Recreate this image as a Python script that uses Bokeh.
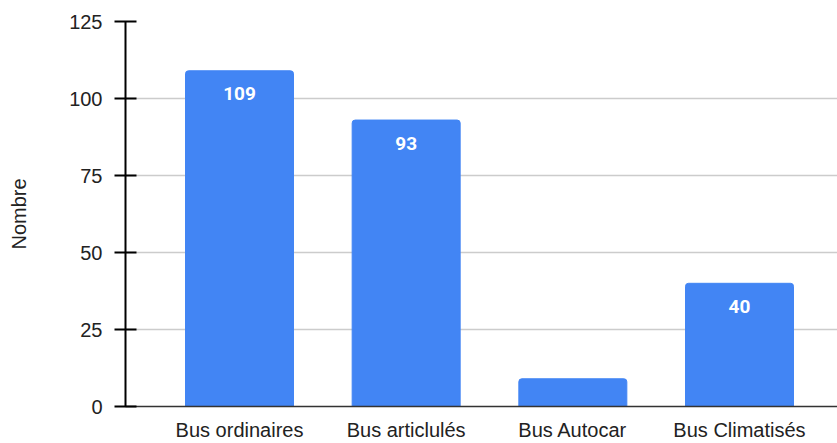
from bokeh.plotting import figure
from bokeh.models import ColumnDataSource, Range1d, FixedTicker, LabelSet
from bokeh.core.properties import value
from bokeh.embed import file_html
from bokeh.resources import INLINE

categories = ["Bus ordinaires", "Bus articlulés", "Bus Autocar", "Bus Climatisés"]
values = [109, 93, 9, 40]
y_ticks = [0, 25, 50, 75, 100, 125]

xs = list(range(len(categories)))
labels = [str(v) if v >= 20 else "" for v in values]
src = ColumnDataSource(dict(x=xs, top=values, label=labels, cat=categories))

p = figure(width=837, height=443, output_backend="svg", toolbar_location=None,
           x_range=Range1d(-0.684, 3.588), y_range=Range1d(0, 125),
           min_border_left=125, min_border_right=0, min_border_top=21, min_border_bottom=36)
p.outline_line_color = None
p.background_fill_color = "white"
p.border_fill_color = "white"

p.vbar(x="x", top="top", width=0.648, bottom=0, source=src, color="#4285F4",
       border_radius=(3, 3, 0, 0))

lbl = LabelSet(x="x", y="top", text="label", source=src, text_color="white",
               text_font=value("Roboto"), text_font_style="bold", text_font_size="19px",
               text_align="center", text_baseline="middle", y_offset=-23)
p.add_layout(lbl)

# y axis
p.yaxis.ticker = FixedTicker(ticks=y_ticks)
p.yaxis.axis_label = "Nombre"
p.yaxis.axis_label_text_font = "Liberation Sans"
p.yaxis.axis_label_text_font_size = "20px"
p.yaxis.axis_label_text_font_style = "normal"
p.yaxis.axis_label_text_color = "#222222"
p.yaxis.axis_label_standoff = 36
p.yaxis.major_label_text_font = "Liberation Sans"
p.yaxis.major_label_text_font_size = "20px"
p.yaxis.major_label_text_color = "#222222"
p.yaxis.major_label_standoff = 12
p.yaxis.axis_line_color = "black"
p.yaxis.axis_line_width = 2
p.yaxis.major_tick_line_color = "black"
p.yaxis.major_tick_line_width = 2
p.yaxis.major_tick_in = 11
p.yaxis.major_tick_out = 11
p.yaxis.minor_tick_line_color = None

# x axis
p.xaxis.ticker = FixedTicker(ticks=xs)
p.xaxis.major_label_overrides = {i: c for i, c in zip(xs, categories)}
p.xaxis.major_label_text_font = "Liberation Sans"
p.xaxis.major_label_text_font_size = "20px"
p.xaxis.major_label_text_color = "#222222"
p.xaxis.major_label_standoff = 12
p.xaxis.major_tick_in = 0
p.xaxis.major_tick_out = 0
p.xaxis.axis_line_color = "#333333"
p.xaxis.axis_line_width = 1.5
p.xaxis.major_tick_line_color = None
p.xaxis.minor_tick_line_color = None

p.xgrid.grid_line_color = None
p.ygrid.grid_line_color = "#cccccc"
p.ygrid.grid_line_width = 1.5

open("out.html", "w").write(file_html(p, INLINE))
